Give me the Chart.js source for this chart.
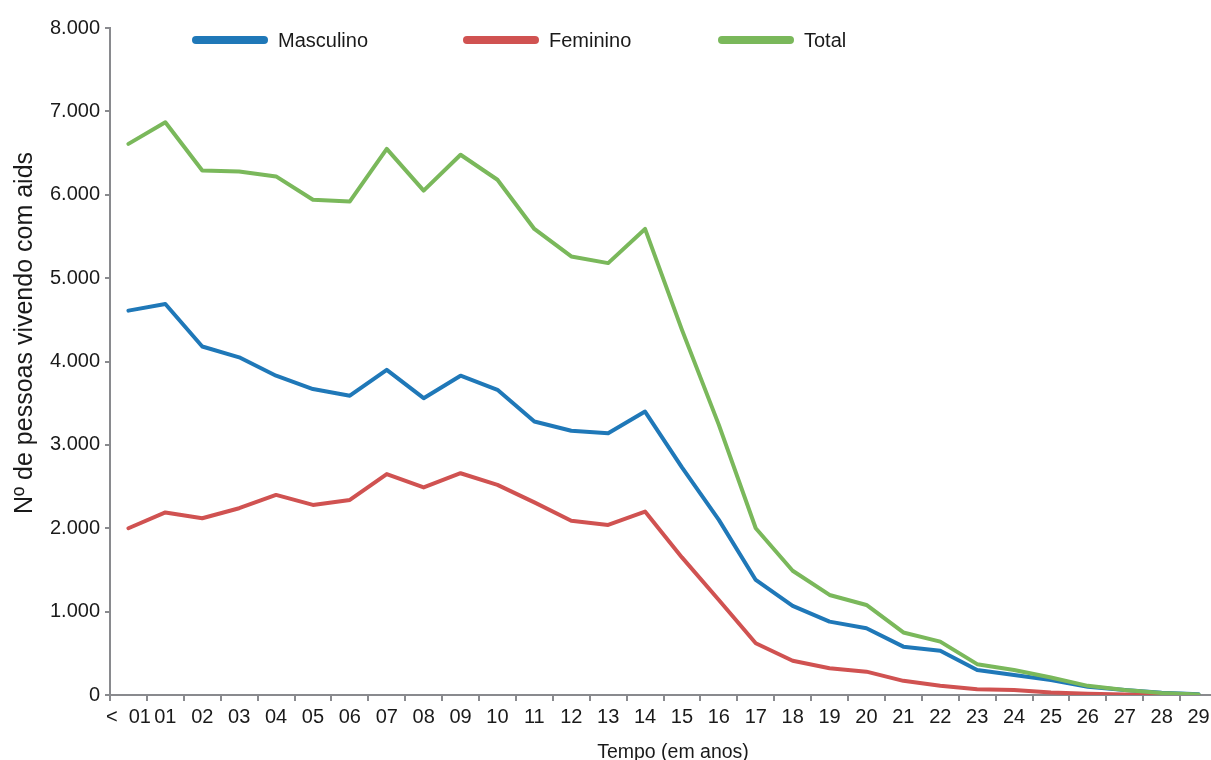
<!DOCTYPE html>
<html lang="pt-BR">
<head>
<meta charset="utf-8">
<title>Pessoas vivendo com aids segundo o tempo</title>
<script src="https://cdn.jsdelivr.net/npm/chart.js@4.4.1/dist/chart.umd.min.js"></script>
<style>
  html, body { margin: 0; padding: 0; background: #ffffff; overflow: hidden; }
  #wrap { position: relative; width: 1217px; height: 760px; }
</style>
</head>
<body>
<div id="wrap"><canvas id="chart"></canvas></div>
<script>
// Tempo desde o diagnóstico (anos)
const categories = ['<  01', '01', '02', '03', '04', '05', '06', '07', '08', '09',
  '10', '11', '12', '13', '14', '15', '16', '17', '18', '19',
  '20', '21', '22', '23', '24', '25', '26', '27', '28', '29'];

// Nº de pessoas vivendo com aids, por sexo
const masculino = [4610, 4690, 4180, 4050, 3830, 3670, 3590, 3900, 3560, 3830,
  3660, 3280, 3170, 3140, 3400, 2730, 2100, 1380, 1070, 880,
  800, 580, 530, 300, 240, 180, 100, 60, 28, 8];
const feminino = [2000, 2190, 2120, 2240, 2400, 2280, 2340, 2650, 2490, 2660,
  2520, 2310, 2090, 2040, 2200, 1650, 1140, 620, 410, 320,
  280, 170, 110, 70, 60, 30, 15, 6, 3, 1];
const total = [6610, 6870, 6290, 6280, 6220, 5940, 5920, 6550, 6050, 6480,
  6180, 5590, 5260, 5180, 5590, 4380, 3240, 2000, 1490, 1200,
  1080, 750, 640, 370, 300, 210, 110, 60, 25, 6];

const seriesNames = ['Masculino', 'Feminino', 'Total'];
const yTickValues = [0, 1000, 2000, 3000, 4000, 5000, 6000, 7000, 8000];

const FONT = 'Liberation Sans, Arial, Helvetica, sans-serif';
const AXIS = '#898a8e';
const INK = '#1a1a1a';
const COLORS = ['#1f78b8', '#d05251', '#7ab85b'];

// thousands separator in Portuguese style: 8000 -> "8.000"
function ptNumber(v) {
  return String(Math.round(v)).replace(/\B(?=(\d{3})+(?!\d))/g, '.');
}

// Legend row drawn across the top of the plot
const topLegend = {
  id: 'topLegend',
  afterDraw(chart, args, opts) {
    const ctx = chart.ctx;
    ctx.save();
    ctx.font = opts.fontSize + 'px ' + FONT;
    ctx.textBaseline = 'middle';
    ctx.textAlign = 'left';
    chart.data.datasets.forEach((ds, i) => {
      const x0 = opts.starts[i];
      const y = opts.y;
      ctx.strokeStyle = ds.borderColor;
      ctx.lineWidth = opts.swatchThickness;
      ctx.lineCap = 'round';
      ctx.beginPath();
      ctx.moveTo(x0 + opts.swatchThickness / 2, y);
      ctx.lineTo(x0 + opts.swatchLength - opts.swatchThickness / 2, y);
      ctx.stroke();
      ctx.fillStyle = INK;
      ctx.fillText(ds.label, x0 + opts.swatchLength + opts.gap, y + 1);
    });
    ctx.restore();
  }
};

// Axis titles
const axisTitles = {
  id: 'axisTitles',
  afterDraw(chart, args, opts) {
    const ctx = chart.ctx;
    ctx.save();
    ctx.fillStyle = INK;
    ctx.textAlign = 'center';
    ctx.textBaseline = 'middle';
    ctx.font = opts.yFontSize + 'px ' + FONT;
    ctx.translate(opts.yX, opts.yY);
    ctx.rotate(-Math.PI / 2);
    ctx.fillText(opts.yText, 0, 0);
    ctx.restore();

    ctx.save();
    ctx.fillStyle = INK;
    ctx.textAlign = 'center';
    ctx.textBaseline = 'alphabetic';
    ctx.font = opts.xFontSize + 'px ' + FONT;
    ctx.fillText(opts.xText, opts.xX, opts.xY);
    ctx.restore();
  }
};

const seriesValues = [masculino, feminino, total];
const datasets = seriesValues.map((vals, i) => ({
  label: seriesNames[i],
  data: vals,
  borderColor: COLORS[i],
  backgroundColor: COLORS[i],
  borderWidth: 4,
  pointRadius: 0,
  pointHoverRadius: 0,
  tension: 0,
  fill: false,
  borderJoinStyle: 'round',
  borderCapStyle: 'round',
  order: 2 - i
}));

new Chart(document.getElementById('chart'), {
  type: 'line',
  data: { labels: categories, datasets },
  plugins: [topLegend, axisTitles],
  options: {
    responsive: true,
    maintainAspectRatio: false,
    animation: false,
    events: [],
    layout: { padding: { top: 28, right: 0, bottom: 0, left: 0 } },
    plugins: {
      legend: { display: false },
      title: { display: false },
      tooltip: { enabled: false },
      topLegend: {
        starts: [192, 463, 718],
        y: 40,
        swatchLength: 76,
        swatchThickness: 8,
        gap: 10,
        fontSize: 20
      },
      axisTitles: {
        yText: 'Nº de pessoas vivendo com aids',
        yFontSize: 25,
        yX: 25,
        yY: 333,
        xText: 'Tempo (em anos)',
        xFontSize: 19.5,
        xX: 673,
        xY: 758
      }
    },
    scales: {
      x: {
        type: 'category',
        offset: true,
        grid: {
          offset: true,
          drawOnChartArea: false,
          drawTicks: true,
          tickLength: 6,
          color: AXIS,
          lineWidth: 2
        },
        border: { display: true, color: AXIS, width: 2 },
        ticks: {
          autoSkip: false,
          maxRotation: 0,
          minRotation: 0,
          padding: 4,
          color: INK,
          font: { family: FONT, size: 20 }
        },
        afterFit(scale) { scale.height = 65; }
      },
      y: {
        min: 0,
        max: 8000,
        afterBuildTicks(scale) {
          scale.ticks = yTickValues.map(v => ({ value: v }));
        },
        grid: {
          drawOnChartArea: false,
          drawTicks: true,
          tickLength: 5,
          color: AXIS,
          lineWidth: 2
        },
        border: { display: true, color: AXIS, width: 2 },
        ticks: {
          padding: 5,
          color: INK,
          font: { family: FONT, size: 20 },
          callback: v => ptNumber(v)
        },
        afterFit(scale) { scale.width = 110; }
      }
    }
  }
});
</script>
</body>
</html>
